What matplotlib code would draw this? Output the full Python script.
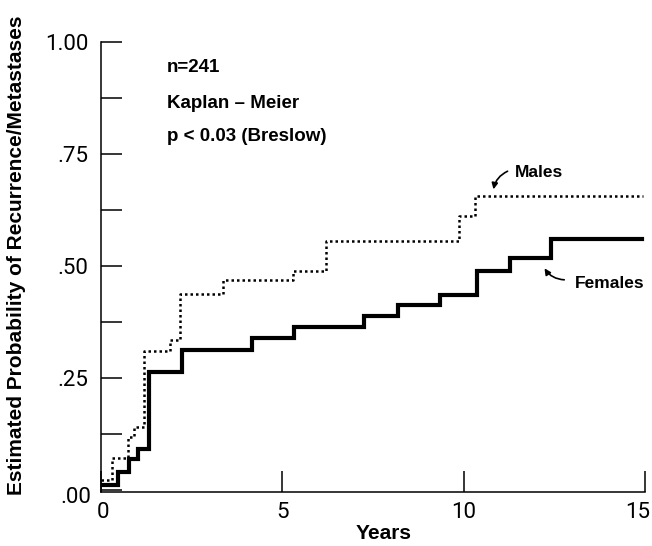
import matplotlib
matplotlib.use("Agg")
import matplotlib.pyplot as plt
from matplotlib.transforms import ScaledTranslation

# Kaplan-Meier estimates: step start times (years) and cumulative probability
female_times = [0, 0.47, 0.77, 1.02, 1.32, 2.23, 4.16, 5.32, 7.25, 8.19, 9.35, 10.37, 11.28, 12.41]
female_prob = [0.011, 0.040, 0.069, 0.092, 0.263, 0.3125, 0.340, 0.364, 0.388, 0.413, 0.435, 0.489, 0.518, 0.560]
female_end = 14.92

male_times = [0, 0.30, 0.75, 0.91, 1.19, 1.90, 2.18, 3.36, 5.29, 6.20, 9.87, 10.31]
male_prob = [0.022, 0.071, 0.118, 0.141, 0.310, 0.335, 0.4375, 0.469, 0.489, 0.556, 0.612, 0.656]
male_end = 14.94

y_ticks = [0, 0.25, 0.5, 0.75, 1.0]
y_tick_labels = [".00", ".25", ".50", ".75", "1.00"]
y_minor_ticks = [0.125, 0.375, 0.625, 0.875]
x_ticks = [0, 5, 10, 15]
x_tick_labels = ["0", "5", "10", "15"]

bold_font = "Liberation Sans"
num_font = "Roboto"

fig = plt.figure(figsize=(6.52, 5.46), dpi=100)
ax = fig.add_axes([101 / 652, 1 - 492 / 546, 544 / 652, 450 / 546])

ax.step(female_times + [female_end], female_prob + [female_prob[-1]], where="post",
        color="black", lw=3.0, solid_joinstyle="miter")
ax.step(male_times + [male_end], male_prob + [male_prob[-1]], where="post",
        color="black", lw=1.8, linestyle=(0, (1.0, 1.2)))

ax.set_xlim(0, 15)
ax.set_ylim(-2 / 448, 1.0)

for side in ("top", "right"):
    ax.spines[side].set_visible(False)
for side in ("left", "bottom"):
    ax.spines[side].set_linewidth(1.1)

ax.set_yticks(y_ticks)
ax.set_yticklabels(y_tick_labels, fontfamily=num_font, fontweight="normal", fontsize=16)
ax.set_yticks(y_minor_ticks, minor=True)
ax.set_xticks(x_ticks)
ax.set_xticklabels(x_tick_labels, fontfamily=num_font, fontweight="normal", fontsize=16)
ax.tick_params(axis="both", which="both", direction="in", length=15, width=1.1)
ax.tick_params(axis="y", pad=9)
ax.tick_params(axis="x", pad=7)

# nudge the bottom-left and far-right labels
px = 1 / fig.dpi
ylabels = ax.get_yticklabels()
ylabels[0].set_transform(ylabels[0].get_transform() + ScaledTranslation(3 * px, -5 * px, fig.dpi_scale_trans))
xlabels = ax.get_xticklabels()
xlabels[0].set_transform(xlabels[0].get_transform() + ScaledTranslation(2 * px, 0, fig.dpi_scale_trans))
xlabels[-1].set_transform(xlabels[-1].get_transform() + ScaledTranslation(-7 * px, 0, fig.dpi_scale_trans))

ax.set_ylabel("Estimated Probability of Recurrence/Metastases", fontfamily=bold_font,
              fontweight="bold", fontsize=15.0)
ax.yaxis.set_label_coords(-0.138, 0.527)
ax.set_xlabel("Years", fontfamily=bold_font, fontweight="bold", fontsize=15)
ax.xaxis.set_label_coords(0.52, -0.072)

txt = dict(fontfamily=bold_font, fontweight="bold", fontsize=13.5, va="center", ha="left")
ax.text(1.82, 0.942, "n=241", **txt)
ax.text(1.82, 0.862, "Kaplan \u2013 Meier", **txt)
ax.text(1.82, 0.788, "p < 0.03 (Breslow)", **txt)

lab = dict(txt, fontsize=12.5)
ax.text(11.41, 0.708, "Males", **lab)
ax.annotate("", xy=(10.81, 0.665), xytext=(11.28, 0.714),
            arrowprops=dict(arrowstyle="-|>", color="black", lw=1.2,
                            mutation_scale=9, connectionstyle="arc3,rad=0.3"))
ax.text(13.07, 0.462, "Females", **lab)
ax.annotate("", xy=(12.19, 0.50), xytext=(12.85, 0.469),
            arrowprops=dict(arrowstyle="-|>", color="black", lw=1.2,
                            mutation_scale=9, connectionstyle="arc3,rad=-0.3"))

fig.savefig("out.png", dpi=100)
